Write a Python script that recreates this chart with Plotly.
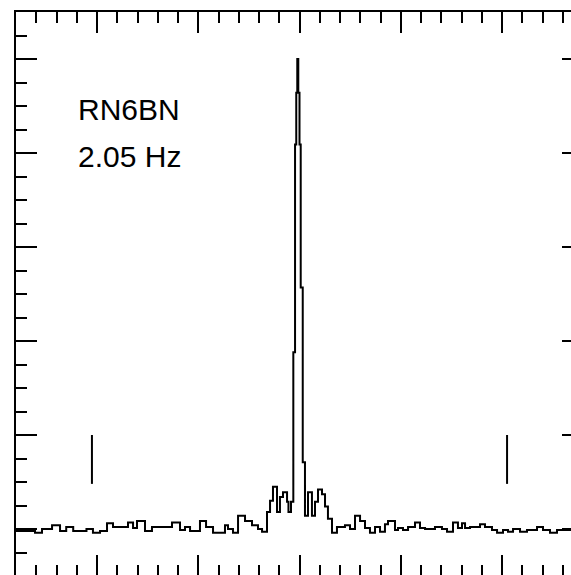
import plotly.graph_objects as go

# Power spectrum (step edges in Hz, normalised power)
freq = [-2.800, -2.612, -2.543, -2.444, -2.365, -2.304, -2.235, -2.104, -2.040, -1.970,
        -1.901, -1.842, -1.694, -1.644, -1.605, -1.526, -1.457, -1.259, -1.180, -1.131,
        -1.081, -0.983, -0.923, -0.854, -0.736, -0.706, -0.657, -0.607, -0.538, -0.469,
        -0.410, -0.370, -0.321, -0.291, -0.262, -0.222, -0.193, -0.163, -0.123, -0.109,
        -0.084, -0.061, -0.044, -0.032, -0.022, -0.012, 0.000, 0.012, 0.032, 0.054,
        0.084, 0.123, 0.153, 0.183, 0.222, 0.252, 0.281, 0.321, 0.370, 0.449,
        0.499, 0.548, 0.598, 0.647, 0.696, 0.746, 0.795, 0.844, 0.874, 0.943,
        0.973, 1.022, 1.072, 1.141, 1.190, 1.240, 1.338, 1.407, 1.457, 1.516,
        1.565, 1.605, 1.635, 1.684, 1.783, 1.832, 1.901, 1.951, 2.010, 2.059,
        2.109, 2.178, 2.247, 2.346, 2.405, 2.474, 2.543, 2.800]
power = [-0.02, -0.04, 0.00, 0.04, -0.02, 0.02, -0.02, 0.00, -0.04, -0.02,
         0.06, 0.02, 0.07, 0.01, 0.085, -0.02, 0.02, 0.07, -0.01, 0.02,
         -0.02, 0.085, 0.02, -0.04, 0.04, 0.00, -0.04, 0.14, 0.085, 0.04,
         0.00, -0.03, 0.18, 0.30, 0.45, 0.18, 0.34, 0.39, 0.29, 0.18,
         0.29, 1.88, 4.09, 4.64, 5.00, 4.64, 4.09, 2.57, 0.71, 0.14,
         0.39, 0.14, 0.29, 0.42, 0.37, 0.24, 0.11, -0.04, 0.02, 0.04,
         0.00, 0.14, 0.085, 0.01, -0.04, 0.02, -0.03, 0.05, 0.085, -0.01,
         0.01, -0.01, 0.02, 0.07, 0.01, 0.00, 0.02, 0.00, -0.03, 0.07,
         0.01, 0.06, 0.01, 0.02, 0.05, 0.02, -0.01, -0.04, -0.01, -0.03,
         0.00, -0.03, -0.01, 0.02, -0.01, -0.04, -0.01, -0.01]

# Frequency markers at +/- 2.05 Hz
marker_freq = [-2.05, 2.05]
marker_low = 0.48
marker_high = 1.0

star_name = "RN6BN"
freq_label = "2.05 Hz"

x_range = [-2.8, 2.8]
y_range = [-0.5, 5.5]

fig = go.Figure()

fig.add_trace(go.Scatter(
    x=freq, y=power, mode="lines",
    line=dict(color="black", width=2, shape="hv"),
    hoverinfo="skip", showlegend=False,
))

for f in marker_freq:
    fig.add_trace(go.Scatter(
        x=[f, f], y=[marker_low, marker_high], mode="lines",
        line=dict(color="black", width=2),
        hoverinfo="skip", showlegend=False,
    ))

axis_common = dict(
    showgrid=False, zeroline=False, showticklabels=False,
    showline=True, linecolor="black", linewidth=2, mirror="allticks",
    ticks="inside", tickcolor="black", tickwidth=2, ticklen=21,
)

fig.update_xaxes(range=x_range, tick0=0, dtick=1,
                 minor=dict(ticks="inside", dtick=0.2, tick0=0, ticklen=11,
                            tickwidth=2, tickcolor="black", showgrid=False),
                 **axis_common)
fig.update_yaxes(range=y_range, tick0=0, dtick=1,
                 minor=dict(ticks="inside", dtick=0.25, tick0=0, ticklen=11,
                            tickwidth=2, tickcolor="black", showgrid=False),
                 **axis_common)

label_font = dict(family="Liberation Sans, Arial, sans-serif", size=30, color="black")
fig.add_annotation(x=-2.21, y=4.46, xref="x", yref="y", text=star_name,
                   showarrow=False, xanchor="left", yanchor="middle", font=label_font)
fig.add_annotation(x=-2.21, y=3.96, xref="x", yref="y", text=freq_label,
                   showarrow=False, xanchor="left", yanchor="middle", font=label_font)

fig.update_layout(
    width=592, height=584, autosize=False,
    margin=dict(l=16, r=9, t=12, b=8, pad=0),
    paper_bgcolor="white", plot_bgcolor="white",
)

fig.write_html("out.html", config={"displayModeBar": False})
